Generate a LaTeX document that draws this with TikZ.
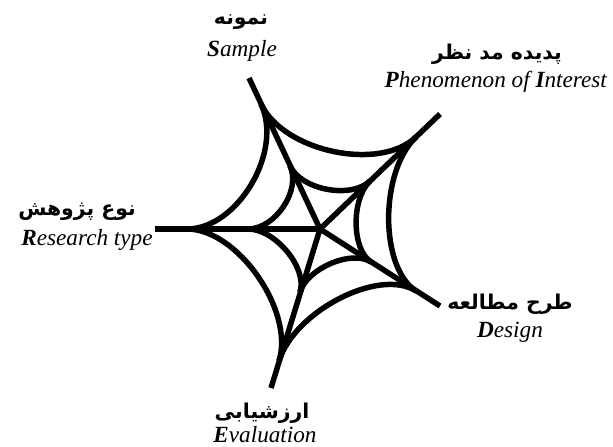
\documentclass[tikz,border=0pt]{standalone}
\usepackage{fontspec}
\setmainfont{Liberation Serif}
\newfontfamily\fafont[Script=Arabic]{DejaVu Sans}
\TeXXeTstate=1
\usepackage{tikz}
\usetikzlibrary{calc}

\begin{document}
\begin{tikzpicture}[
      x=0.025cm, y=-0.025cm,
      sp/.style={line width=3.9pt, black},
      rg/.style={line width=3.9pt, black, line join=round},
      lb/.style={align=center, inner sep=0pt, font=\fontsize{16.5}{21}\selectfont},
      fa/.style={inner sep=0pt, font=\fafont\bfseries\fontsize{14.5}{21}\selectfont},
    ]
      \useasboundingbox (0,0) rectangle (613,447);
      % centre, spoke tips, outer and inner rings
      \coordinate (c)   at (320,229);
      \coordinate (tL)  at (155,229);
      \coordinate (tT)  at (249,78);
      \coordinate (tUR) at (440,114);
      \coordinate (tLR) at (440,306);
      \coordinate (tB)  at (271,388);
      \coordinate (oL)  at (187,229);
      \coordinate (oT)  at (261,104);
      \coordinate (oUR) at (416,137);
      \coordinate (oLR) at (416,291);
      \coordinate (oB)  at (279,361);
      \coordinate (mL)  at (248,229);
      \coordinate (mT)  at (290,166);
      \coordinate (mUR) at (370,181);
      \coordinate (mLR) at (371,262);
      \coordinate (mB)  at (300,292);
      \draw[sp] (tL)--(c); \draw[sp] (tT)--(c); \draw[sp] (tUR)--(c);
      \draw[sp] (tLR)--(c); \draw[sp] (tB)--(c);
      \draw[rg] (oL) .. controls ($(oL)!0.38!(c)$) and ($(oT)!0.38!(c)$) .. (oT);
      \draw[rg] (oT) .. controls ($(oT)!0.38!(c)$) and ($(oUR)!0.38!(c)$) .. (oUR);
      \draw[rg] (oUR) .. controls ($(oUR)!0.38!(c)$) and ($(oLR)!0.38!(c)$) .. (oLR);
      \draw[rg] (oLR) .. controls ($(oLR)!0.38!(c)$) and ($(oB)!0.38!(c)$) .. (oB);
      \draw[rg] (oB) .. controls ($(oB)!0.38!(c)$) and ($(oL)!0.38!(c)$) .. (oL);
      \draw[rg] (mL) .. controls ($(mL)!0.38!(c)$) and ($(mT)!0.38!(c)$) .. (mT);
      \draw[rg] (mT) .. controls ($(mT)!0.38!(c)$) and ($(mUR)!0.38!(c)$) .. (mUR);
      \draw[rg] (mUR) .. controls ($(mUR)!0.38!(c)$) and ($(mLR)!0.38!(c)$) .. (mLR);
      \draw[rg] (mLR) .. controls ($(mLR)!0.38!(c)$) and ($(mB)!0.38!(c)$) .. (mB);
      \draw[rg] (mB) .. controls ($(mB)!0.38!(c)$) and ($(mL)!0.38!(c)$) .. (mL);
      % labels
      \node[fa] (smpfa) at (241,22) {\beginR نمونه\endR};
      \node[lb] (smp)   at (242,51) {\textit{\textbf{S}ample}};
      \node[fa] (phnfa) at (497,54) {\beginR پدیده مد نظر\endR};
      \node[lb] (phn)   at (496,82) {\textit{\textbf{P}henomenon of \textbf{I}nterest}};
      \node[fa] (resfa) at (77,212) {\beginR نوع پژوهش\endR};
      \node[lb] (res)   at (87,240) {\textit{\textbf{R}esearch type}};
      \node[fa] (desfa) at (510,304) {\beginR طرح مطالعه\endR};
      \node[lb] (des)   at (510,332) {\textit{\textbf{D}esign}};
      \node[fa] (evafa) at (262,413) {\beginR ارزشیابی\endR};
      \node[lb] (eva)   at (265,435) {\textit{\textbf{E}valuation}};
    \end{tikzpicture}
\end{document}
